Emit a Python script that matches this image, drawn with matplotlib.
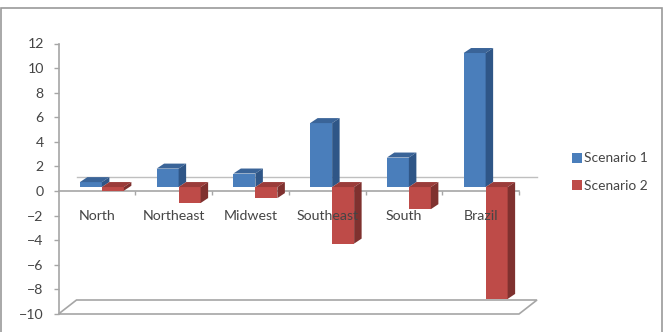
import matplotlib
matplotlib.use("Agg")
import matplotlib.pyplot as plt
from matplotlib.patches import Rectangle, Polygon
from matplotlib.lines import Line2D

regions = ["North", "Northeast", "Midwest", "Southeast", "South", "Brazil"]
scenario_1 = [0.4, 1.5, 1.1, 5.2, 2.4, 10.9]
scenario_2 = [-0.3, -1.3, -0.9, -4.6, -1.8, -9.1]
y_ticks = list(range(-10, 13, 2))

W, H = 669, 332
GREY = "#a6a6a6"
TEXT = "#454545"
BLUE = ("#4a7ebb", "#3a6498", "#2f5687")   # front, top, side
RED = ("#be4b48", "#9b3c3a", "#7f312f")

plt.rcParams["font.family"] = ["Lato", "DejaVu Sans"]

fig = plt.figure(figsize=(W / 100, H / 100), dpi=100, facecolor="white")

# axes box in pixels, y runs top-down in these numbers
left, right, top, bottom = 58.5, 519.0, 43.5, 314.0
ax = fig.add_axes([left / W, 1 - bottom / H, (right - left) / W, (bottom - top) / H])
ax.set_xlim(-0.5, 5.5)
ax.set_ylim(-10, 12)
ax.patch.set_alpha(0)

px_x = 6 / (right - left)          # one pixel in x data units
px_y = 22 / (bottom - top)         # one pixel in y data units

# outer frame of the chart area
fig.add_artist(Rectangle((1 / W, -0.1), 660.5 / W, 1.1 - 8 / H, transform=fig.transFigure,
                         fill=False, edgecolor="#9a9a9a", linewidth=1.2))

# back wall line and floor
ax.plot([-0.5 + 18 * px_x, 5.5 + 18 * px_x], [14 * px_y] * 2, color="#bfbfbf", lw=1, clip_on=False, zorder=1)
floor = Polygon([(-0.5, -10), (-0.5 + 18 * px_x, -10 + 14 * px_y), (5.5 + 18 * px_x, -10 + 14 * px_y), (5.5, -10)],
                closed=True, fill=False, edgecolor=GREY, lw=1.2, clip_on=False, zorder=1)
ax.add_patch(floor)

for side in ("top", "right"):
    ax.spines[side].set_visible(False)
ax.spines["left"].set_color(GREY)
ax.spines["left"].set_linewidth(1.2)
ax.spines["bottom"].set_position(("data", 0))
ax.spines["bottom"].set_color(GREY)
ax.spines["bottom"].set_linewidth(1.2)
ax.spines["bottom"].set_zorder(1.5)

ax.set_yticks(y_ticks)
ax.tick_params(axis="y", length=3.6, width=1, color=GREY, labelcolor=TEXT, pad=7, labelsize=10.2)
ax.set_xticks(range(len(regions)), regions)
ax.tick_params(axis="x", which="major", length=0, pad=13.5, labelcolor=TEXT, labelsize=10.2)
ax.set_xticks([i + 0.5 for i in range(len(regions))], minor=True)
ax.tick_params(axis="x", which="minor", length=2.8, width=1, color=GREY)
ax.xaxis.set_zorder(10)   # region names stay readable on top of the bars

bar_w = 22 * px_x
base = 4 * px_y       # bars stand a little behind the front axis line
depth_x = 7.5 * px_x
depth_y = 5 * px_y


def bar_3d(x, v, colors, z):
    front, top_c, side_c = colors
    y0, y1 = min(base, base + v), max(base, base + v)
    ax.bar(x, y1 - y0, bar_w, bottom=y0, align="edge", color=front, zorder=z)
    ax.add_patch(Polygon([(x, y1), (x + depth_x, y1 + depth_y), (x + bar_w + depth_x, y1 + depth_y), (x + bar_w, y1)],
                         color=top_c, lw=0, zorder=z))
    ax.add_patch(Polygon([(x + bar_w, y0), (x + bar_w + depth_x, y0 + depth_y), (x + bar_w + depth_x, y1 + depth_y), (x + bar_w, y1)],
                         color=side_c, lw=0, zorder=z))


for i in range(len(regions)):
    start = i - 17 * px_x
    bar_3d(start, scenario_1[i], BLUE, 3 + i * 0.1)
    bar_3d(start + bar_w, scenario_2[i], RED, 3.05 + i * 0.1)

handles = [Line2D([], [], marker="s", ls="", ms=7.2, color=BLUE[0], mew=0),
           Line2D([], [], marker="s", ls="", ms=7.2, color=RED[0], mew=0)]
fig.legend(handles, ["Scenario 1", "Scenario 2"], loc="center left", bbox_to_anchor=(571 / W, 1 - 172 / H),
           frameon=False, fontsize=9.9, labelcolor=TEXT, handlelength=0.8, handletextpad=0.15,
           labelspacing=1.1, borderpad=0, borderaxespad=0)

fig.savefig("out.png", dpi=100, facecolor="white")
